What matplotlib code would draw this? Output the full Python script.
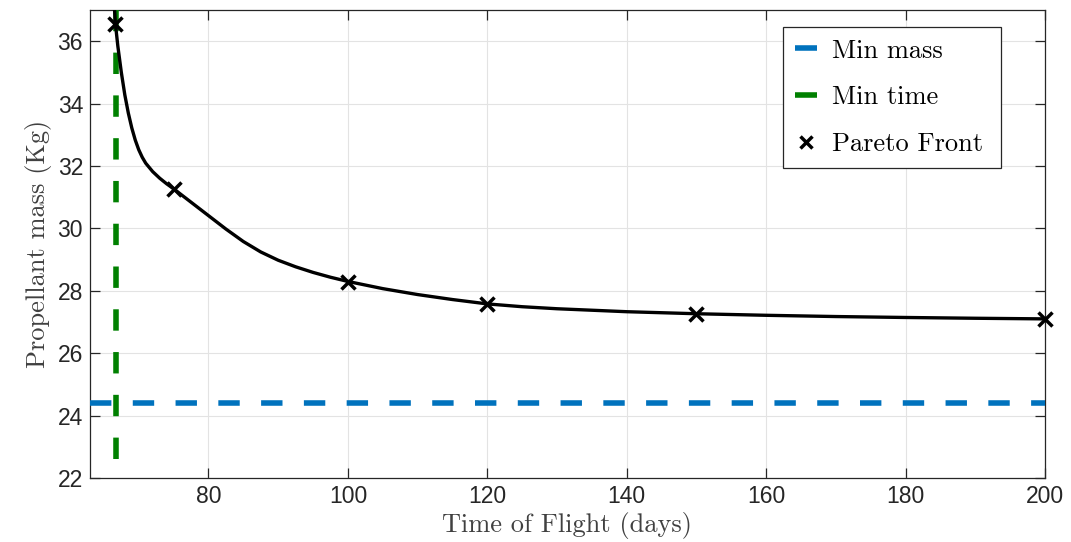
import numpy as np
import matplotlib
matplotlib.use("Agg")
import matplotlib.pyplot as plt
from matplotlib.lines import Line2D

# Pareto front points (time of flight in days, propellant mass in kg)
pareto_tof = [66.65, 75, 100, 120, 150, 200]
pareto_mass = [36.54, 31.27, 28.29, 27.58, 27.27, 27.10]

# smooth front curve
curve_tof = [66.45, 66.65, 67.0, 67.5, 68.0, 68.5, 69.0, 69.5, 70.0, 70.5, 71.0,
             72.0, 73.0, 74.0, 75.0, 77.5, 80.0, 82.5, 85.0, 87.5, 90.0, 92.5,
             95.0, 97.5, 100.0, 105, 110, 115, 120, 125, 130, 140, 150,
             160, 170, 180, 190, 200]
curve_mass = [37.3, 36.56, 35.84, 35.0, 34.28, 33.7, 33.22, 32.83, 32.52, 32.28, 32.09,
              31.82, 31.61, 31.43, 31.27, 30.84, 30.41, 29.98, 29.58, 29.245, 28.98, 28.77,
              28.59, 28.435, 28.30, 28.07, 27.88, 27.72, 27.58, 27.49, 27.425, 27.33, 27.265,
              27.215, 27.175, 27.145, 27.12, 27.10]

min_mass = 24.4
min_time = 66.7
min_time_span = [22.6, 40.0]

x_lim = (63.0, 200.0)
y_lim = (22.0, 37.0)
x_ticks = [80, 100, 120, 140, 160, 180, 200]
y_ticks = [22, 24, 26, 28, 30, 32, 34, 36]

blue = '#0072BD'
green = '#008000'
axcol = '#262626'
serif = 'cmr10'

fig = plt.figure(figsize=(10.71, 5.42), dpi=100)
ax = fig.add_axes([0.084, 0.1181, 0.8917, 0.8634])

lw_d = 4.0
dash = (0, (3.85, 3.85))
ax.plot(x_lim, [min_mass, min_mass], color=blue, lw=lw_d, linestyle=dash,
        dash_capstyle='butt', zorder=3)
ax.plot([min_time, min_time], min_time_span, color=green, lw=lw_d, linestyle=dash,
        dash_capstyle='butt', zorder=3)
ax.plot(curve_tof, curve_mass, color='k', lw=2.4, zorder=4)
ax.plot(pareto_tof, pareto_mass, linestyle='none', marker='x', color='k',
        markersize=9.5, markeredgewidth=2.5, zorder=5, clip_on=False)

ax.set_xlim(*x_lim)
ax.set_ylim(*y_lim)
ax.set_xticks(x_ticks)
ax.set_yticks(y_ticks)
ax.grid(True, color='#e3e3e3', lw=0.8)
ax.set_axisbelow(True)

for s in ax.spines.values():
    s.set_color(axcol)
    s.set_linewidth(0.9)
ax.tick_params(direction='in', length=7, width=0.9, color=axcol,
               top=True, right=True, labelsize=16.5, labelcolor=axcol, pad=5)
for lab in ax.get_xticklabels() + ax.get_yticklabels():
    lab.set_family('Liberation Sans')

ax.set_xlabel('Time of Flight (days)', family=serif, fontsize=19, color='#404040', labelpad=3)
ax.set_ylabel('Propellant mass (Kg)', family=serif, fontsize=19, color='#404040', labelpad=4)

handles = [Line2D([0], [0], color=blue, lw=4, solid_capstyle='butt', label='Min mass'),
           Line2D([0], [0], color=green, lw=4, solid_capstyle='butt', label='Min time'),
           Line2D([0], [0], lw=0, marker='x', color='k', markersize=8,
                  markeredgewidth=2.5, label='Pareto Front')]
lg = ax.legend(handles=handles, loc='upper left', bbox_to_anchor=(0.7257, 0.0, 0.2283, 0.9637),
               mode='expand', borderaxespad=0, prop={'family': serif, 'size': 19},
               handlelength=0.85, handletextpad=0.55, labelspacing=0.87,
               borderpad=0.45, fancybox=False, edgecolor=axcol, framealpha=1)
lg.get_frame().set_linewidth(0.9)

fig.savefig('out.png', dpi=100)
